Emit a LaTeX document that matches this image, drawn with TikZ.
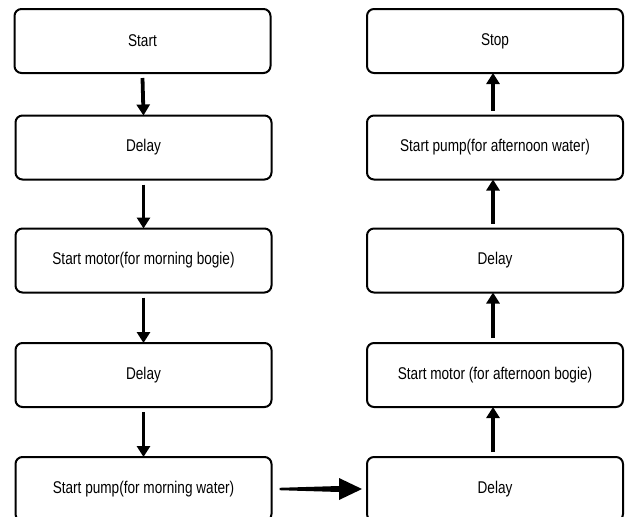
\documentclass[tikz,border=0pt]{standalone}
\usepackage{fontspec}
\setmainfont{Liberation Sans}[FakeStretch=0.8]
\usetikzlibrary{arrows.meta,calc}
\begin{document}
\begin{tikzpicture}[x=1pt,y=-1pt,
  box/.style={draw=black,line width=2pt,rounded corners=7pt,minimum width=256pt,minimum height=64pt,inner sep=0pt,font=\fontsize{17}{20}\selectfont,fill=white},
  arr/.style={line width=3.8pt,-{Triangle[length=11pt,width=13pt]}},
  harr/.style={fill=black}]
\useasboundingbox (0,0) rectangle (627,517);
\node[box] (l1) at (142.5,41) {Start};
\node[box] (l2) at (143.5,147.5) {Delay};
\node[box] (l3) at (143.5,260.5) {Start motor(for morning bogie)};
\node[box] (l4) at (143.5,375) {Delay};
\node[box] (l5) at (143.5,489) {Start pump(for morning water)};
\node[box] (r1) at (495,41) {Stop};
\node[box] (r2) at (495,147.5) {Start pump(for afternoon water)};
\node[box] (r3) at (495,260.5) {Delay};
\node[box] (r4) at (495,375) {Start motor (for afternoon bogie)};
\node[box] (r5) at (495,489) {Delay};
\draw[arr] ([yshift=-4pt]l1.south) -- ([yshift=-1pt]l2.north);
\draw[arr] ([yshift=-4pt]l2.south) -- ([yshift=-1pt]l3.north);
\draw[arr] ([yshift=-4pt]l3.south) -- ([yshift=-1pt]l4.north);
\draw[arr] ([yshift=-4pt]l4.south) -- ([yshift=-1pt]l5.north);
\coordinate (ha) at ($(l5.east)+(7,0)$);
\coordinate (ht) at ($(r5.west)+(-4,0)$);
\fill[harr] ($(ha)+(0,-1.2)$) -- ($(ht)+(-23,-3)$) -- ($(ht)+(-23,-11)$) -- (ht)
  -- ($(ht)+(-23,11)$) -- ($(ht)+(-23,3)$) -- ($(ha)+(0,1.2)$) -- cycle;
\draw[arr] ([xshift=-2pt,yshift=4pt]r5.north) -- ([xshift=-2pt,yshift=1pt]r4.south);
\draw[arr] ([xshift=-2pt,yshift=4pt]r4.north) -- ([xshift=-2pt,yshift=1pt]r3.south);
\draw[arr] ([xshift=-2pt,yshift=4pt]r3.north) -- ([xshift=-2pt,yshift=1pt]r2.south);
\draw[arr] ([xshift=-2pt,yshift=4pt]r2.north) -- ([xshift=-2pt,yshift=1pt]r1.south);
\end{tikzpicture}
\end{document}
